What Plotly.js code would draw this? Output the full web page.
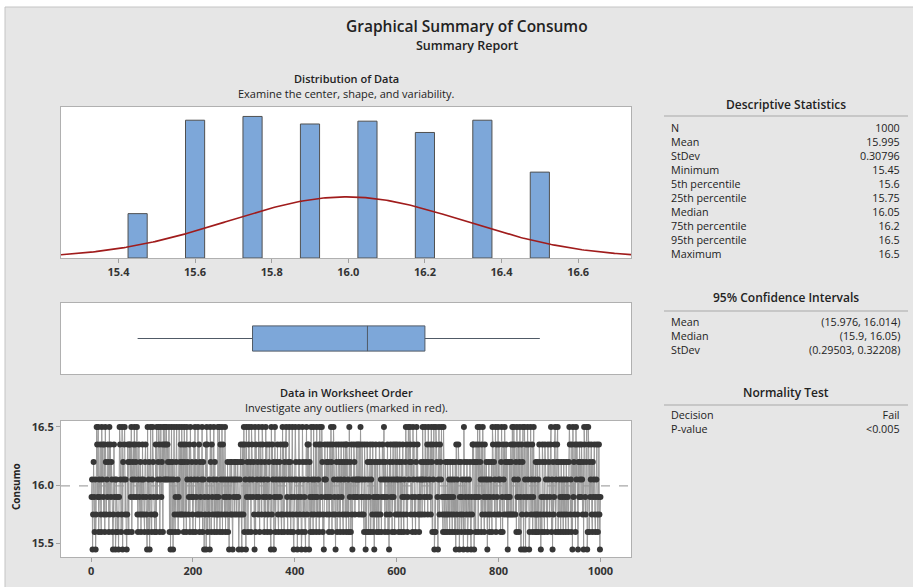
<!DOCTYPE html>
<html>
<head>
<meta charset="utf-8">
<script src="https://cdn.plot.ly/plotly-3.0.1.min.js"></script>
<style>html,body{margin:0;padding:0;background:#fff;}#chart{width:913px;height:587px;}</style>
</head>
<body>
<div id="chart"></div>
<script>
// ---------------- DATA ----------------
const levels = [15.45, 15.6, 15.75, 15.9, 16.05, 16.2, 16.35, 16.5];
const histCounts = [47, 146, 150, 142, 145, 133, 146, 91];
const histTicks = [15.4, 15.6, 15.8, 16.0, 16.2, 16.4, 16.6];

const sampleN = 1000;
const sampleMean = 15.995;
const sampleStDev = 0.30796;
const binWidth = 0.05;

const boxQ1 = [15.75];
const boxMedian = [16.05];
const boxQ3 = [16.2];
const boxMin = [15.45];
const boxMax = [16.5];

// worksheet order: each digit is an index into `levels`, 25 observations per string
const orderCodes = [
"3402531402763714362174632","6175243651726354102634014","3120376412705467241026516","5637145637465372146325142",
"6342156320714503721475321","2617345761473561746746746","5471504715047213572413725","6275261752617452361743521",
"3647153247261532471540326","0761324075163247152341273","2716427164327143251403524","5204352453245302456205627",
"1640735167435176435207163","4527316452763415273614256","3107264503714536214536214","7261546723154725134721034",
"7524031752430175243105726","4605317243172436173246172","6375120463452635126375162","7432065143625146352164526",
"1652417351620436524364364","2647326432164031654135614","5261305263152316524136547","3154236140526341563416254",
"6241562415362143572613745","7625317462315746231423542","7453274536275436275164701","1765304726547321732153215",
"3241532415324150624165032","5134207513425013425103265","6035163571637541627431624","5304251342517635247163274",
"6241573164275362503253265","2762746251734615730625703","7406237460137246137241521","5241652031652316542316452",
"3671405236714567152431524","3152431524315762416073526","1746205364536425076325701","7615346215346213462136203"
];
const worksheetTicksY = [15.5, 16.0, 16.5];

const descLabels = ["N","Mean","StDev","Minimum","5th percentile","25th percentile","Median","75th percentile","95th percentile","Maximum"];
const descValues = ["1000","15.995","0.30796","15.45","15.6","15.75","16.05","16.2","16.5","16.5"];
const ciLabels = ["Mean","Median","StDev"];
const ciValues = ["(15.976, 16.014)","(15.9, 16.05)","(0.29503, 0.32208)"];
const normLabels = ["Decision","P-value"];
const normValues = ["Fail","<0.005"];

// ---------------- BUILD ----------------
const W = 913, H = 587;
const X = px => px / W;
const Y = py => 1 - py / H;
const FONT = "Open Sans, Noto Sans, sans-serif";
const TXT = "#222";
const XRANGE = [15.25, 16.738];

const codes = orderCodes.join("");
const wsY = codes.split("").map(c => levels[+c]);
const wsX = wsY.map((v, i) => i + 1);

// fitted normal curve from mean / stdev, scaled to counts per bin
const curveX = [], curveY = [];
for (let k = 0; k <= 300; k++) {
  const x = 15.25 + k * 0.005;
  const z = (x - sampleMean) / sampleStDev;
  curveX.push(x);
  curveY.push(sampleN * binWidth * Math.exp(-0.5 * z * z) / (sampleStDev * Math.sqrt(2 * Math.PI)));
}

const traces = [
  { type: "bar", x: levels, y: histCounts, width: binWidth, xaxis: "x", yaxis: "y",
    marker: { color: "#7DA7D9", line: { color: "#505050", width: 1 } }, hoverinfo: "x+y" },
  { type: "scatter", mode: "lines", x: curveX, y: curveY, xaxis: "x", yaxis: "y",
    line: { color: "#A01C1C", width: 1.6 }, hoverinfo: "skip" },
  { type: "box", orientation: "h", y: [0], q1: boxQ1, median: boxMedian, q3: boxQ3,
    lowerfence: boxMin, upperfence: boxMax, width: 0.71, whiskerwidth: 0,
    xaxis: "x2", yaxis: "y2", fillcolor: "#7DA7D9", line: { color: "#505a66", width: 1 },
    boxpoints: false },
  { type: "scatter", mode: "lines+markers", x: wsX, y: wsY, xaxis: "x3", yaxis: "y3",
    line: { color: "#9a9a9a", width: 1 },
    marker: { color: "#363636", size: 6 } }
];

const xdom = [X(61), X(631)];
const frame = { showline: true, mirror: true, linecolor: "#b0b0b0", linewidth: 1,
  showgrid: false, zeroline: false, fixedrange: true };
const tickFont = { family: FONT, size: 11, color: "#333", weight: "bold" };

const layout = {
  width: W, height: H, margin: { l: 0, r: 0, t: 0, b: 0, pad: 0 },
  paper_bgcolor: "#e6e6e6", plot_bgcolor: "#ffffff", showlegend: false,
  font: { family: FONT, color: TXT },
  xaxis: Object.assign({}, frame, { domain: xdom, anchor: "y", range: XRANGE,
    tickvals: histTicks, tickformat: ".1f", ticks: "outside", ticklen: 4, tickcolor: "#a0a0a0", tickfont: tickFont }),
  yaxis: Object.assign({}, frame, { domain: [Y(258), Y(107)], anchor: "x", range: [0, 160],
    showticklabels: false, ticks: "" }),
  xaxis2: Object.assign({}, frame, { domain: xdom, anchor: "y2", range: XRANGE,
    showticklabels: false, ticks: "" }),
  yaxis2: Object.assign({}, frame, { domain: [Y(374), Y(303)], anchor: "x2", range: [-1, 1],
    showticklabels: false, ticks: "" }),
  xaxis3: Object.assign({}, frame, { domain: xdom, anchor: "y3", range: [-59, 1060],
    tick0: 0, dtick: 200, ticks: "outside", ticklen: 4, tickcolor: "#a0a0a0", tickfont: tickFont }),
  yaxis3: Object.assign({}, frame, { domain: [Y(557), Y(421)], anchor: "x3", range: [15.385, 16.551],
    tickvals: worksheetTicksY, tickformat: ".1f", ticks: "outside", ticklen: 4, tickcolor: "#a0a0a0", tickfont: tickFont }),
  shapes: [],
  annotations: []
};

// page frame: white strips at top/left, thin border line
layout.shapes.push({ type: "rect", xref: "paper", yref: "paper", x0: 0, x1: 1, y0: Y(7), y1: 1,
  fillcolor: "#ffffff", line: { width: 0 }, layer: "above" });
layout.shapes.push({ type: "rect", xref: "paper", yref: "paper", x0: 0, x1: X(5), y0: 0, y1: 1,
  fillcolor: "#ffffff", line: { width: 0 }, layer: "above" });
layout.shapes.push({ type: "line", xref: "paper", yref: "paper", x0: X(5), x1: 1, y0: Y(7), y1: Y(7),
  line: { color: "#c4c4c4", width: 1 } });
layout.shapes.push({ type: "line", xref: "paper", yref: "paper", x0: X(5), x1: X(5), y0: 0, y1: Y(7),
  line: { color: "#c4c4c4", width: 1 } });

// reference line at the mean in worksheet-order plot
layout.shapes.push({ type: "line", xref: "x3 domain", yref: "y3", x0: 0, x1: 1, y0: sampleMean, y1: sampleMean,
  line: { color: "#a8a8a8", width: 1.2, dash: "dash" }, layer: "below" });

function ann(text, px, py, opts) {
  layout.annotations.push(Object.assign({
    text: text, xref: "paper", yref: "paper", x: X(px), y: Y(py),
    xanchor: "center", yanchor: "middle", showarrow: false, borderpad: 0,
    font: { family: FONT, size: 11, color: TXT }
  }, opts || {}));
}

ann("Graphical Summary of Consumo", 467, 26, { font: { family: FONT, size: 15.5, color: TXT, weight: 600 } });
ann("Summary Report", 467, 45.5, { font: { family: FONT, size: 12.5, color: TXT, weight: 600 } });
ann("Distribution of Data", 346, 78.5, { font: { family: FONT, size: 11, color: TXT, weight: 600 } });
ann("Examine the center, shape, and variability.", 346, 93.5, { font: { family: FONT, size: 11, color: TXT } });
ann("Data in Worksheet Order", 346, 392, { font: { family: FONT, size: 11, color: TXT, weight: 600 } });
ann("Investigate any outliers (marked in red).", 346, 407, { font: { family: FONT, size: 11, color: TXT } });
ann("Consumo", 16, 487, { textangle: -90, font: { family: FONT, size: 10, color: TXT, weight: "bold" } });

// tables: one multi-line block per column (row pitch = 1.3 * font size = 14 px)
const ROW = 14, TSIZE = ROW / 1.3;
function table(title, titleY, lineY, labels, values, firstRowY) {
  ann(title, 786, titleY, { font: { family: FONT, size: 12, color: TXT, weight: 600 } });
  layout.shapes.push({ type: "line", xref: "paper", yref: "paper", x0: X(664), x1: X(908), y0: Y(lineY), y1: Y(lineY),
    line: { color: "#a8a8a8", width: 1 } });
  const midY = firstRowY + ROW * (labels.length - 1) / 2;
  ann(labels.join("<br>"), 670, midY, { xanchor: "left", align: "left", font: { family: FONT, size: TSIZE, color: TXT } });
  ann(values.join("<br>"), 901, midY, { xanchor: "right", align: "right", font: { family: FONT, size: TSIZE, color: TXT } });
}
table("Descriptive Statistics", 104, 116, descLabels, descValues, 127);
table("95% Confidence Intervals", 298, 311, ciLabels, ciValues, 321);
table("Normality Test", 392, 405, normLabels, normValues, 414);

Plotly.newPlot("chart", traces, layout, { staticPlot: true, displayModeBar: false });
</script>
</body>
</html>
